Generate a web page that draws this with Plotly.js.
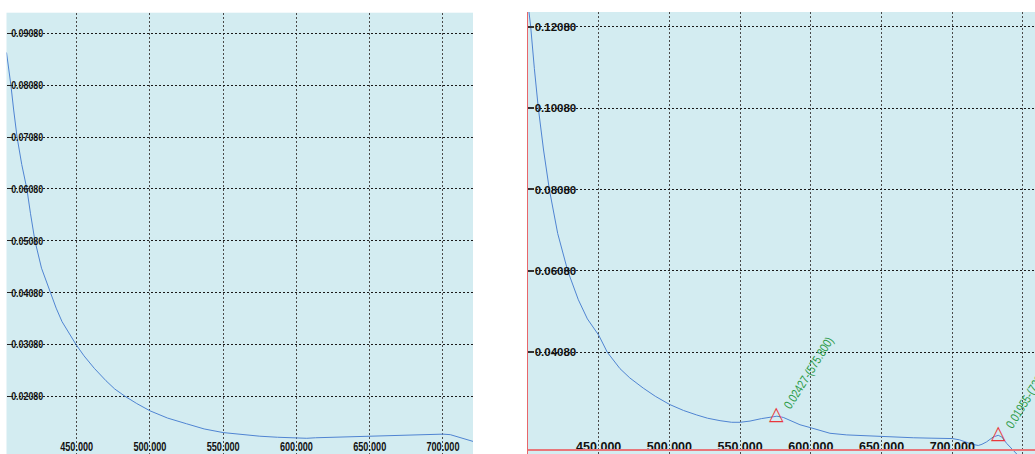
<!DOCTYPE html>
<html>
<head>
<meta charset="utf-8">
<script src="https://cdn.plot.ly/plotly-3.0.1.min.js"></script>
<style>html,body{margin:0;padding:0;background:#fff;}#chart{width:1035px;height:454px;}</style>
</head>
<body>
<div id="chart"></div>
<script>
// ---- data ----
const leftWavelength = [402.1,404,405.1,407,409.3,412.5,416,418.5,421.5,426,432,436,440,445,449.5,455,462,470,476,483,491,500,512,525,537,550,562,575,587,600,607,613,625,637,650,662,675,687,700,705,710,715,720.5];
const leftAbsorbance = [0.0871,0.0835,0.0808,0.0760,0.0708,0.0655,0.0608,0.0560,0.0508,0.0455,0.0408,0.0378,0.0352,0.0328,0.0308,0.0286,0.0262,0.0238,0.0222,0.0208,0.0194,0.0180,0.0166,0.0155,0.0145,0.0138,0.0134,0.0131,0.0129,0.0128,0.0127,0.0128,0.0129,0.0130,0.0131,0.0132,0.0134,0.0134,0.0135,0.0134,0.0130,0.0126,0.0121];

const rightWavelength = [400.5,401.9,404.5,407.3,411,415.1,421,428.1,435.6,442,450,456.1,465,472,481.5,490,500,510,519.3,527,535.8,544,550,557,565,571,576,580.5,586,592.3,600.6,607,613.5,625.4,637,650,662,672.4,685,700,705,710.2,714,718.4,721,724.3,727,729,732.5,735,738.5,742,745.6,750,758.5];
const rightAbsorbance = [0.1250,0.1208,0.1105,0.1008,0.0905,0.0808,0.0700,0.0608,0.0537,0.0490,0.0450,0.0408,0.0368,0.0345,0.0320,0.0300,0.0280,0.0265,0.0254,0.0246,0.0240,0.0236,0.0236,0.0239,0.0245,0.0249,0.0251,0.0248,0.0240,0.0230,0.0222,0.0215,0.0209,0.0205,0.0203,0.0201,0.0199,0.0198,0.0197,0.0196,0.0193,0.0187,0.0182,0.0179,0.0182,0.0188,0.0195,0.0200,0.0204,0.0200,0.0184,0.0170,0.0158,0.0148,0.0135];

const peakWavelength = [575.8, 733.0];
const peakAbsorbance = [0.02427, 0.01955];

const leftXTicks = [450, 500, 550, 600, 650, 700];
const rightXTicks = [450, 500, 550, 600, 650, 700, 750];
const leftYTicks = [0.0208, 0.0308, 0.0408, 0.0508, 0.0608, 0.0708, 0.0808, 0.0908];
const rightYTicks = [0.0408, 0.0608, 0.0808, 0.1008, 0.1208];
const baselineAbsorbance = 0.0168;

// ---- styles ----
const W = 1035, H = 454;
const narrowFamily = '"Liberation Sans","Arial",sans-serif';
const yTickFont = {family: narrowFamily, size: 11.5, color: '#111', weight: 'bold'};
const xTickFont = {family: narrowFamily, size: 12.5, color: '#111', weight: 'bold'};
const lineColor = '#4f84d2';
const vGrid = {showgrid: true, gridcolor: '#4a4a4a', gridwidth: 1, griddash: '2px,2px', zeroline: false};
const hGrid = {showgrid: true, gridcolor: '#1a1a1a', gridwidth: 1, griddash: '2px,2px', zeroline: false};

const traces = [
  {x: leftWavelength, y: leftAbsorbance, xaxis: 'x', yaxis: 'y', type: 'scatter', mode: 'lines',
   line: {color: lineColor, width: 1}, hoverinfo: 'skip'},
  {x: rightWavelength, y: rightAbsorbance, xaxis: 'x2', yaxis: 'y2', type: 'scatter', mode: 'lines',
   line: {color: lineColor, width: 1}, hoverinfo: 'skip'}
];

const annotations = [];
peakWavelength.forEach((px, i) => {
  const py = peakAbsorbance[i];
  annotations.push({x: px, y: py, xref: 'x2', yref: 'y2', text: '△', showarrow: false,
    xanchor: 'center', yanchor: 'bottom', yshift: -6,
    font: {family: 'DejaVu Sans', size: 19, color: '#e8383d'}});
  annotations.push({x: px, y: py, xref: 'x2', yref: 'y2',
    text: py.toFixed(5) + '-(' + px.toFixed(3) + ')', showarrow: false,
    textangle: -58, xanchor: 'center', yanchor: 'middle', xshift: 32, yshift: 47,
    font: {family: narrowFamily, size: 12.5, color: '#2c9b48'}});
});

const layout = {
  width: W, height: H,
  margin: {l: 0, r: 0, t: 0, b: 0, pad: 0},
  paper_bgcolor: '#ffffff',
  plot_bgcolor: '#d3ecf1',
  showlegend: false,
  xaxis: Object.assign({domain: [6.5 / W, 473 / W], range: [402.1, 720.5], anchor: 'y',
    tickvals: leftXTicks, tickformat: '.3f', ticks: '', ticklabelposition: 'inside', ticklabelstandoff: -2,
    tickfont: xTickFont, showline: false}, vGrid),
  yaxis: Object.assign({domain: [0, 1 - 12.7 / H], range: [0.00967, 0.09477], anchor: 'x',
    tickvals: leftYTicks, tickformat: '.5f', ticks: 'inside', ticklen: 4, tickwidth: 1, tickcolor: '#222',
    ticklabelposition: 'inside', tickfont: yTickFont, showline: false}, hGrid),
  xaxis2: Object.assign({domain: [528 / W, 1], range: [400.0, 758.5], anchor: 'y2',
    tickvals: rightXTicks, tickformat: '.3f', ticks: '', ticklabelposition: 'inside', ticklabelstandoff: -2,
    tickfont: xTickFont, showline: false}, vGrid),
  yaxis2: Object.assign({domain: [0, 1 - 12 / H], range: [0.01581, 0.12441], anchor: 'x2',
    tickvals: rightYTicks, tickformat: '.5f', ticks: 'inside', ticklen: 6, tickwidth: 2, tickcolor: '#333',
    ticklabelposition: 'inside', tickfont: yTickFont,
    showline: true, linecolor: '#e8666a', linewidth: 1}, hGrid),
  shapes: [
    {type: 'line', xref: 'x2 domain', yref: 'y2', x0: 0, x1: 1, y0: baselineAbsorbance, y1: baselineAbsorbance,
     line: {color: '#e8767a', width: 2}, layer: 'above'}
  ],
  annotations: annotations
};

function condense() {
  // the instrument software uses a narrow bitmap face: squeeze the glyphs horizontally
  document.querySelectorAll('.ytick text').forEach(t => {
    t.setAttribute('textLength', 32); t.setAttribute('lengthAdjust', 'spacingAndGlyphs');
  });
  document.querySelectorAll('.xtick text').forEach(t => {
    t.setAttribute('textLength', 33); t.setAttribute('lengthAdjust', 'spacingAndGlyphs');
  });
  document.querySelectorAll('.annotation-text').forEach(t => {
    if ((t.textContent || '').length > 3) {
      t.setAttribute('textLength', 82); t.setAttribute('lengthAdjust', 'spacingAndGlyphs');
    }
  });
}

Plotly.newPlot('chart', traces, layout, {staticPlot: true, displayModeBar: false}).then(condense);
</script>
</body>
</html>
